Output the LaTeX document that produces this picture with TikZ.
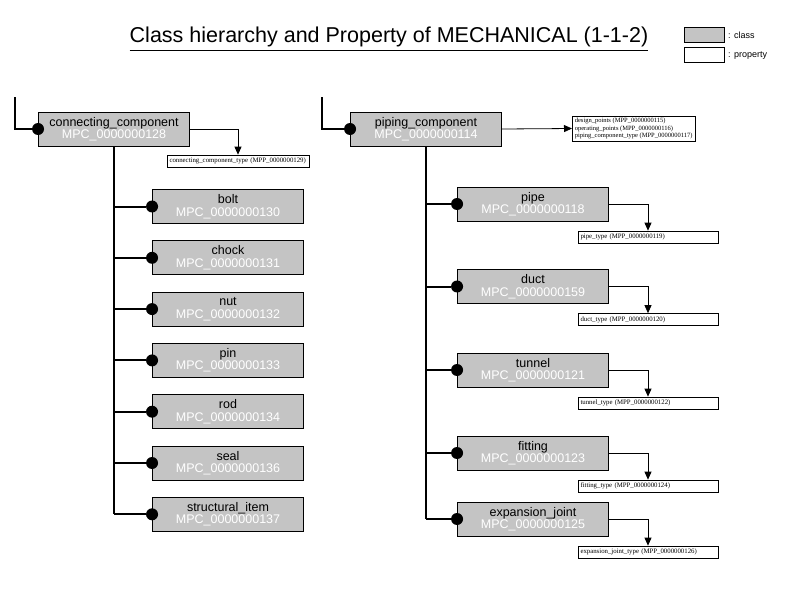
\documentclass[tikz,border=0pt]{standalone}
\usepackage{fontspec}
\setmainfont{Liberation Sans}
\newfontfamily\propfont{Liberation Serif}
\usetikzlibrary{arrows.meta}
\definecolor{clsgray}{RGB}{196,196,196}
\tikzset{
  cls/.style={draw=black, line width=0.9pt, fill=clsgray, minimum width=151pt, minimum height=34pt,
    inner sep=0pt, align=center, font=\fontsize{12.5}{12.5}\selectfont},
  prop/.style={draw=black, line width=0.7pt, fill=white, minimum height=12pt, inner xsep=2.5pt, inner ysep=1.8pt,
    align=left, anchor=center, font=\propfont\fontsize{6.8}{8}\selectfont},
  dotc/.style={circle, fill=black, minimum size=12pt, inner sep=0pt},
  tree/.style={line width=2pt},
  parrow/.style={line width=0.8pt, -{Triangle[length=8pt,width=7pt]}},
}
\newcommand{\cid}[1]{\\\textcolor{white}{MPC\_#1}}
\begin{document}
\begin{tikzpicture}[x=1pt,y=-1pt]
\useasboundingbox[fill=white] (0,0) rectangle (800,590);
% title
\node[font=\fontsize{21.5}{24}\selectfont, inner sep=0pt] (title) at (389,37) {Class hierarchy and Property of MECHANICAL (1-1-2)};
\draw[line width=0.8pt] ([yshift=-3pt]title.south west) -- ([yshift=-3pt]title.south east);
% legend
\node[draw=black, line width=0.8pt, fill=clsgray, minimum width=40pt, minimum height=15pt, inner sep=0pt] (lgc) at (704,35) {};
\node[anchor=west, font=\fontsize{9}{10}\selectfont, inner sep=0pt] (lgct) at (728,35) {: class};
\node[draw=black, line width=0.8pt, fill=white, minimum width=40pt, minimum height=15pt, inner sep=0pt] (lgp) at (704,55) {};
\node[anchor=west, font=\fontsize{9}{10}\selectfont, inner sep=0pt] (lgpt) at (728,56) {: property};

% ---------- left tree ----------
\node[cls] (cc) at (114,129) {connecting\_component\cid{0000000128}};
\coordinate (ccin) at (15,97);
\node[dotc] (ccd) at (cc.west) {};
\draw[tree] (ccin) |- (ccd);
\node[prop, text width=137pt] (ccp) at (238,161) {connecting\_component\_type (MPP\_0000000129)};
\draw[parrow] (cc.east) -| (ccp.north);

\foreach \nm/\lab/\num/\yy in {bolt/bolt/0000000130/206.5,
  chock/chock/0000000131/257.8,
  nut/nut/0000000132/309.1,
  pin/pin/0000000133/360.4,
  rod/rod/0000000134/411.7,
  seal/seal/0000000136/463,
  sitem/structural\_item/0000000137/514.3}{
  \node[cls] (\nm) at (228,\yy) {\lab\cid{\num}};
  \node[dotc] (\nm d) at (\nm.west) {};
  \draw[tree] (cc.south |- \nm.west) -- (\nm d);
}
\draw[tree] (cc.south) -- (cc.south |- sitem.west);

% ---------- right tree ----------
\node[cls] (pc) at (426,129) {piping\_component\cid{0000000114}};
\coordinate (pcin) at (322,97);
\node[dotc] (pcd) at (pc.west) {};
\draw[tree] (pcin) |- (pcd);
\node[prop, anchor=west, font=\propfont\fontsize{6.5}{7.8}\selectfont] (pcp) at (572,128.5) {design\_points (MPP\_0000000115)\\operating\_points (MPP\_0000000116)\\piping\_component\_type (MPP\_0000000117)};
\draw[parrow] (pc.east) -- (pcp.west);

\foreach \nm/\lab/\num/\pnum/\plab/\yy in {pipe/pipe/0000000118/0000000119/pipe/204,
  duct/duct/0000000159/0000000120/duct/286.5,
  tunnel/tunnel/0000000121/0000000122/tunnel/370,
  fitting/fitting/0000000123/0000000124/fitting/453,
  expj/expansion\_joint/0000000125/0000000126/expansion\_joint/519}{
  \node[cls] (\nm) at (533,\yy) {\lab\cid{\num}};
  \node[dotc] (\nm d) at (\nm.west) {};
  \draw[tree] (pc.south |- \nm.west) -- (\nm d);
  \node[prop, text width=135pt] (\nm p) at (648,\yy+33) {\plab\_type (MPP\_\pnum)};
  \draw[parrow] (\nm.east) -| (\nm p.north);
}
\draw[tree] (pc.south) -- (pc.south |- expj.west);
\end{tikzpicture}
\end{document}
